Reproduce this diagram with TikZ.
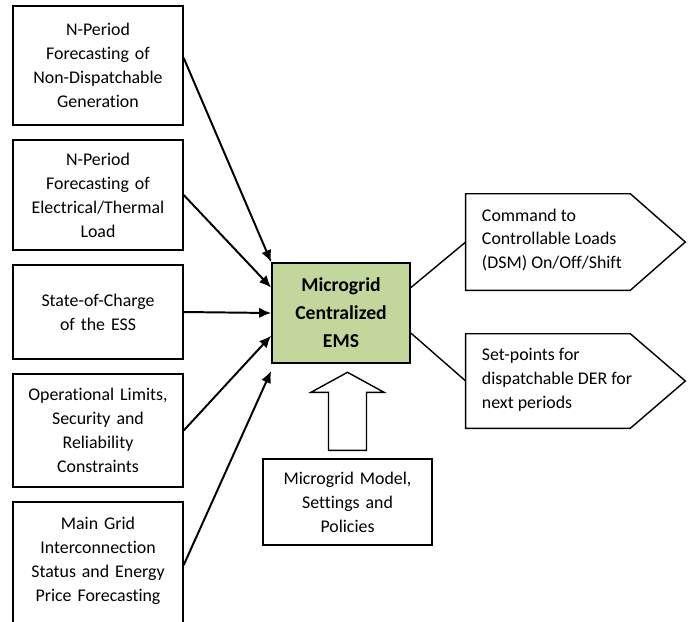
\documentclass[tikz,border=0pt]{standalone}
\usepackage{fontspec}
\setmainfont{Carlito}[Ligatures=NoCommon]
\usetikzlibrary{arrows.meta,calc}

\definecolor{emsgreen}{HTML}{C3D69B}

\tikzstyle{inbox} = [rectangle, draw, line width=1pt, inner xsep=0pt,
text width=4.25cm, align=center, minimum height=2.5cm, font=\fontsize{12.7}{17}\selectfont]
\tikzstyle{ems} = [rectangle, draw, line width=1.2pt, fill=emsgreen, align=center,
minimum width=3.45cm, minimum height=2.5cm, font=\fontsize{14}{19.9}\selectfont\bfseries]
\tikzstyle{outbox} = [rectangle, minimum width=4.1cm, minimum height=2.4cm]
\tikzstyle{outtext} = [inner sep=0pt, align=left, anchor=west, font=\fontsize{12.7}{17}\selectfont]
\tikzstyle{outline} = [draw, line width=1pt, line join=miter]
\tikzstyle{line} = [draw, line width=1.4pt, -{Latex[length=3mm,width=2.6mm]}]
\tikzstyle{thinline} = [draw, line width=1pt]

\begin{document}
\begin{tikzpicture}[x=0.025cm, y=-0.025cm]
\useasboundingbox (0,0) rectangle (691,621);

\node [inbox, minimum height=2.975cm] (gen) at (98,65.5) {N-Period\\Forecasting of\\Non-Dispatchable\\Generation};
\node [inbox, minimum height=2.75cm] (load) at (98,195) {N-Period\\Forecasting of\\Electrical/Thermal\\Load};
\node [inbox, minimum height=2.35cm] (soc) at (98,312) {State-of-Charge\\of the ESS};
\node [inbox, minimum height=2.825cm] (lim) at (98,430.5) {Operational Limits,\\Security and\\Reliability\\Constraints};
\node [inbox, minimum height=3.45cm] (grid) at (98,571) {Main Grid\\Interconnection\\Status and Energy\\Price Forecasting\\ \mbox{}};

\node [ems] (ems) at (341,313) {Microgrid\\Centralized\\EMS};

\node [outbox] (cmd) at (548,242) {};
\node [outbox, minimum height=2.35cm] (setp) at (548,381) {};
\path [outline] (cmd.north west) -- (cmd.north east) -- ($(cmd.east)+(55,0)$) -- (cmd.south east) -- (cmd.south west) -- cycle;
\path [outline] (setp.north west) -- (setp.north east) -- ($(setp.east)+(55,0)$) -- (setp.south east) -- (setp.south west) -- cycle;
\node [outtext] (cmdtext) at ($(cmd.west)+(16,-2)$) {Command to\\Controllable Loads\\(DSM) On/Off/Shift};
\node [outtext] (setptext) at ($(setp.west)+(16,-1)$) {Set-points for\\dispatchable DER for\\next periods};

\node [inbox, text width=4.225cm, minimum height=2.15cm] (model) at (347.5,502) {Microgrid Model,\\Settings and\\Policies};
\path [outline] ($(model.north)+(-19,-8)$) -- ++(0,-58) -- ++(-17.5,0) -- ++(36.5,-20) -- ++(36.5,20) -- ++(-17.5,0) -- ++(0,58) -- cycle;

\coordinate (emsin) at ($(ems.south west)+(0,7)$);
\path [line] (gen.5) -- (ems.north west);
\path [line] (load.east) -- (ems.160);
\path [line] (soc.east) -- (ems.west);
\path [line] (lim.east) -- (ems.198);
\path [line] (grid.4) -- (emsin);

\path [thinline] (ems.20) -- (cmd.west);
\path [thinline] (ems.-16) -- (setp.west);
\end{tikzpicture}
\end{document}
